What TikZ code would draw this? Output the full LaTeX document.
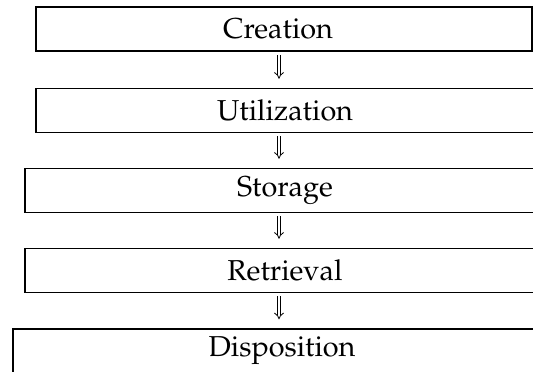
\documentclass[tikz,border=0pt]{standalone}
\usepackage[T1]{fontenc}
\usepackage{mathpazo}
\usetikzlibrary{arrows.meta}
\tikzset{
  stagebox/.style={draw, line width=0.75pt, minimum height=22pt, inner sep=0pt,
    font=\fontsize{14.4}{17}\selectfont},
  flowarrow/.style={double, line width=0.4pt, double distance=1.3pt, -{Implies},
    shorten <=1.5pt, shorten >=4.5pt}
}
\begin{document}
\begin{tikzpicture}[x=0.5pt,y=-0.5pt]
  \useasboundingbox (0,0) rectangle (533,371);
  \clip (0,0) rectangle (533,371);
  \node[stagebox, minimum width=248pt] (crea) at (284,29) {\hspace*{-6pt}Creation};
  \node[stagebox, minimum width=249pt] (util) at (285,110.5) {Utilization};
  \node[stagebox, minimum width=260pt] (stor) at (285,190.5) {Storage};
  \node[stagebox, minimum width=260pt] (retr) at (285,270.5) {Retrieval};
  \node[stagebox, minimum width=269pt] (disp) at (282,351) {Disposition};
  \coordinate (ax) at (279,0);
  \draw[flowarrow] (crea.south -| ax) -- (util.north -| ax);
  \draw[flowarrow] (util.south -| ax) -- (stor.north -| ax);
  \draw[flowarrow] (stor.south -| ax) -- (retr.north -| ax);
  \draw[flowarrow] (retr.south -| ax) -- (disp.north -| ax);
\end{tikzpicture}
\end{document}
